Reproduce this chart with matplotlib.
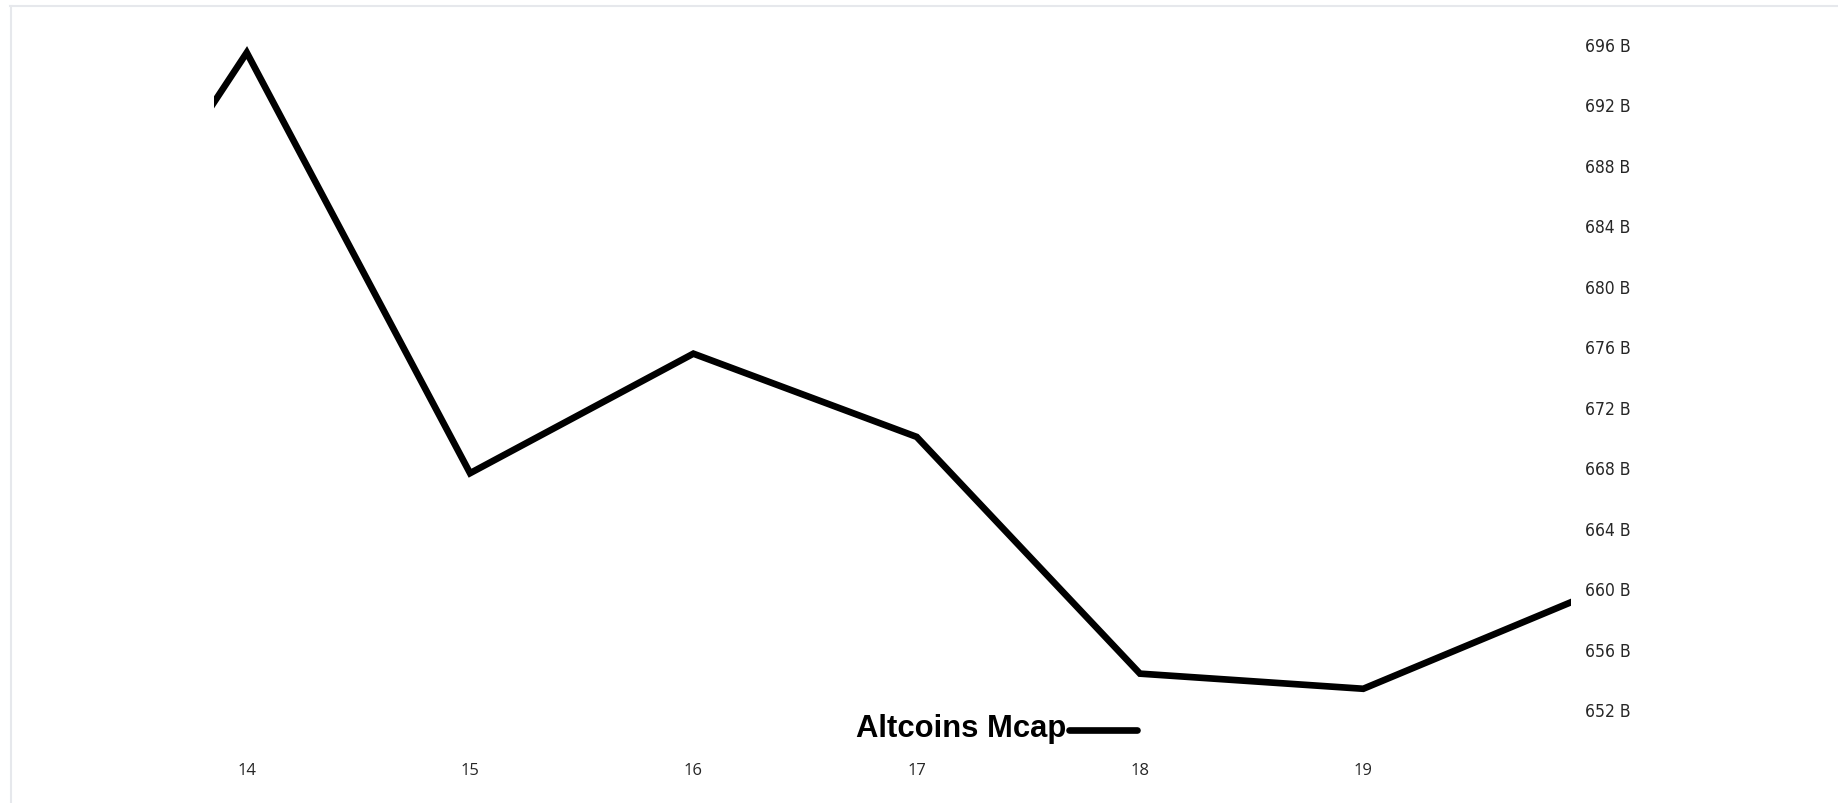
import matplotlib
matplotlib.use('Agg')
import matplotlib.pyplot as plt
from matplotlib.lines import Line2D
from matplotlib.transforms import Affine2D

# Altcoins market cap, billions USD, by day of month
days = [13, 14, 15, 16, 17, 18, 19, 20]
mcap_billions = [673.0, 695.4, 667.6, 675.5, 670.0, 654.35, 653.35, 659.5]

x_ticks = [14, 15, 16, 17, 18, 19]
y_ticks = list(range(652, 697, 4))
y_tick_labels = [f"{v} B" for v in y_ticks]

line_color = "#000000"
label_gray = "#262626"
frame_gray = "#e6e8ec"

fig = plt.figure(figsize=(18.38, 8.04), dpi=100, facecolor="white")
ax = fig.add_axes([0.1164, 0.0796, 0.7383, 0.8955])

ax.plot(days, mcap_billions, color=line_color, linewidth=4.8,
        solid_joinstyle="miter", label="Altcoins Mcap")

ax.set_xlim(13.853, 19.93)
ax.set_ylim(650.03, 697.62)

ax.set_xticks(x_ticks)
ax.set_xticklabels([str(d) for d in x_ticks], fontsize=12, color=label_gray,
                   family="Open Sans")
ax.yaxis.tick_right()
ax.set_yticks(y_ticks)
ax.set_yticklabels(y_tick_labels, fontsize=12.5, color=label_gray,
                   family="DejaVu Sans", fontstretch="condensed")
ax.tick_params(axis="x", length=0, pad=16.4)
ax.tick_params(axis="y", length=0, pad=10)
for spine in ax.spines.values():
    spine.set_visible(False)

leg = ax.legend(loc="center left", bbox_to_anchor=(855.5 / 1838, 1 - 729.5 / 804),
                bbox_transform=fig.transFigure, frameon=False, markerfirst=False,
                handlelength=2.2, handletextpad=0.1, borderpad=0, borderaxespad=0,
                prop={"family": "Liberation Sans", "weight": "bold", "size": 22.3})
for h in leg.get_lines():
    h.set_linewidth(4.8)
    h.set_solid_capstyle("round")
    # sit the legend stroke a little below the text centre
    h.set_transform(h.get_transform() + Affine2D().translate(0, -4.5))

# thin light frame on the top and left edges
fig.add_artist(Line2D([10 / 1838, 1], [1 - 6.5 / 804] * 2, transform=fig.transFigure,
                      color=frame_gray, linewidth=1.5))
fig.add_artist(Line2D([10.5 / 1838] * 2, [0, 1 - 6.5 / 804], transform=fig.transFigure,
                      color=frame_gray, linewidth=1.5))

fig.savefig("out.png", dpi=100, facecolor="white")
plt.close(fig)
